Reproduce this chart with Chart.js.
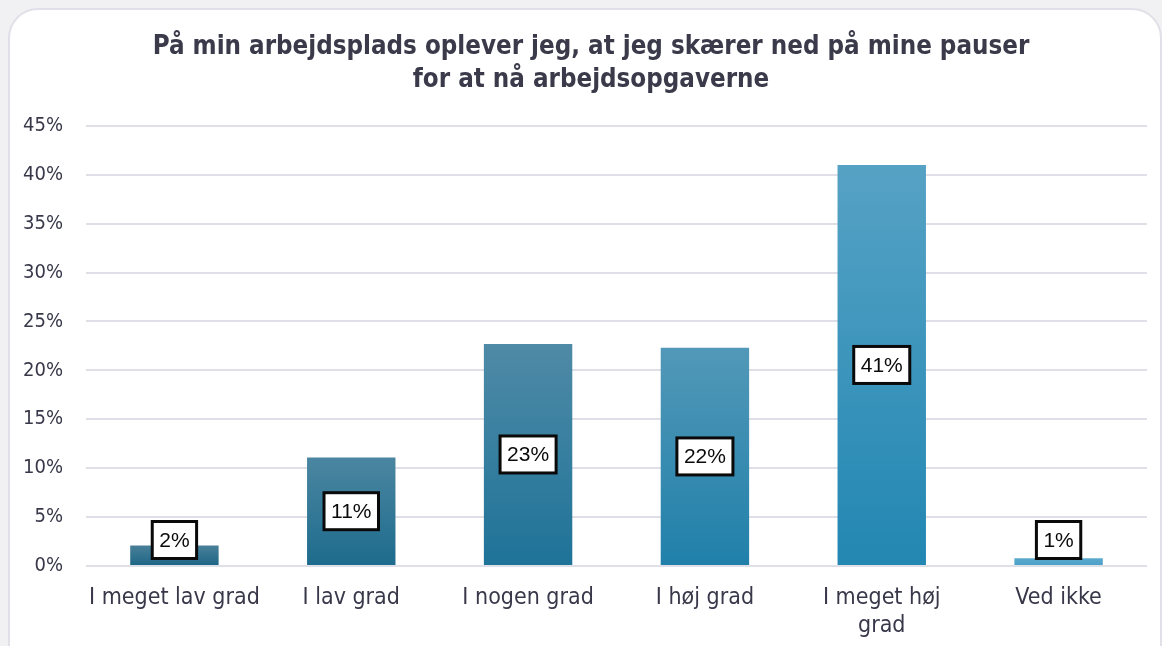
<!DOCTYPE html>
<html>
<head>
<meta charset="utf-8">
<script src="https://cdn.jsdelivr.net/npm/chart.js@4"></script>
<style>
    html, body { margin: 0; padding: 0; background: #f1f1f3; overflow: hidden; }
    #kort {
        position: absolute; left: 8px; top: 8px; width: 1150px; height: 700px;
        background: #fff; border: 2px solid #e0e0e8; border-radius: 30px;
    }
    #graf { position: absolute; left: 0; top: 0; }
</style>
</head>
<body>
<div id="kort"></div>
<canvas id="graf" width="1162" height="646"></canvas>
<script>
// data laest af billedet
const kategorier = ['I meget lav grad', 'I lav grad', 'I nogen grad', 'I høj grad', ['I meget høj', 'grad'], 'Ved ikke'];
const andele = [2.1, 11.1, 22.7, 22.3, 41.0, 0.8];
const etiketter = ['2%', '11%', '23%', '22%', '41%', '1%'];
const y_ticks = [0, 5, 10, 15, 20, 25, 30, 35, 40, 45];

// farver top / bund pr. soejle
const farve_top = ['#4a8099', '#4b86a1', '#4f8aa6', '#5298b8', '#56a2c5', '#5aa9cf'];
const farve_bund = ['#1b6585', '#1d6b8d', '#1e7398', '#2080aa', '#2287b2', '#4a9fc8'];

const tekstfarve = '#38384a';

function soejleFarve(ctx) {
    const chart = ctx.chart;
    const i = ctx.dataIndex;
    if (!chart.chartArea || !chart.scales.y) return farve_bund[i];
    const top = chart.scales.y.getPixelForValue(andele[i]);
    const bund = chart.scales.y.getPixelForValue(0);
    const g = chart.ctx.createLinearGradient(0, top, 0, bund);
    g.addColorStop(0, farve_top[i]);
    g.addColorStop(1, farve_bund[i]);
    return g;
}

// hvide bokse med sort kant
const etiketPlugin = {
    id: 'etiketter',
    afterDatasetsDraw(chart) {
        const c = chart.ctx;
        const meta = chart.getDatasetMeta(0);
        const bund = chart.scales.y.getPixelForValue(0);
        c.save();
        c.font = '21px "Liberation Sans", Arial, sans-serif';
        c.textAlign = 'center';
        c.textBaseline = 'middle';
        meta.data.forEach(function (bar, i) {
            const tekst = etiketter[i];
            const w = c.measureText(tekst).width + 14;
            const h = 37;
            let y = (bar.y + bar.base) / 2;
            if (y > bund - 26) y = bund - 26;
            const x = bar.x;
            c.fillStyle = '#fff';
            c.fillRect(x - w / 2, y - h / 2, w, h);
            c.lineWidth = 3;
            c.strokeStyle = '#0a0a0a';
            c.strokeRect(x - w / 2, y - h / 2, w, h);
            c.fillStyle = '#0a0a0a';
            c.fillText(tekst, x, y + 1);
        });
        c.restore();
    }
};

new Chart(document.getElementById('graf'), {
    type: 'bar',
    data: {
        labels: kategorier,
        datasets: [{
            data: andele,
            backgroundColor: soejleFarve,
            borderWidth: 0,
            barPercentage: 0.5,
            categoryPercentage: 1.0
        }]
    },
    options: {
        responsive: false,
        animation: false,
        layout: { padding: { left: 20, right: 0, top: 0, bottom: 0 } },
        plugins: {
            legend: { display: false },
            tooltip: { enabled: false },
            title: {
                display: true,
                text: ['På min arbejdsplads oplever jeg, at jeg skærer ned på mine pauser', 'for at nå arbejdsopgaverne'],
                color: '#3a3a4a',
                font: { family: '"DejaVu Sans Condensed", "DejaVu Sans", sans-serif', size: 25.7, weight: 'bold', lineHeight: 1.28 },
                padding: { top: 31, bottom: 29 }
            }
        },
        scales: {
            x: {
                grid: { display: false },
                border: { display: false },
                ticks: {
                    color: tekstfarve,
                    padding: 10,
                    maxRotation: 0,
                    autoSkip: false,
                    font: { family: '"DejaVu Sans Condensed", "DejaVu Sans", sans-serif', size: 23, lineHeight: 1.22 }
                },
                afterFit: function (scale) { scale.height = 80; }
            },
            y: {
                min: 0,
                max: 45,
                afterBuildTicks: function (scale) {
                    scale.ticks = y_ticks.map(function (v) { return { value: v }; });
                },
                grid: { color: '#dfdfe7', lineWidth: 2, drawTicks: false },
                border: { display: false },
                ticks: {
                    color: tekstfarve,
                    padding: 23,
                    font: { family: '"DejaVu Sans Condensed", "DejaVu Sans", sans-serif', size: 20 },
                    callback: function (v) { return v + '%'; }
                },
                afterFit: function (scale) { scale.width = 66; }
            },
            // tom akse til hoejre, kun for at give luft
            y2: {
                position: 'right',
                min: 0,
                max: 45,
                grid: { display: false },
                border: { display: false },
                ticks: { display: false },
                afterFit: function (scale) { scale.width = 15; }
            }
        }
    },
    plugins: [etiketPlugin]
});
</script>
</body>
</html>
